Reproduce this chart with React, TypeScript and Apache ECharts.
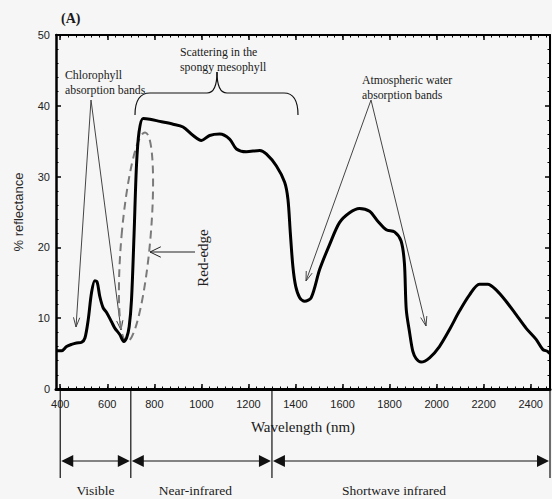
import React, { useEffect, useRef } from 'react';
import * as echarts from 'echarts';

const wavelengths = [
  384, 406, 427, 448, 469, 491, 505, 519, 533, 547, 557, 568, 582, 597, 618, 632, 653, 670, 682, 693,
  703, 714, 724, 735, 752, 781, 823, 880, 922, 965, 1000, 1035, 1078, 1120, 1149, 1191, 1248, 1276,
  1319, 1354, 1368, 1378, 1389, 1401, 1418, 1439, 1467, 1503, 1545, 1587, 1630, 1672, 1715, 1750,
  1786, 1821, 1849, 1863, 1871, 1885, 1899, 1913, 1934, 1970, 2012, 2055, 2097, 2140, 2182, 2217,
  2253, 2295, 2338, 2380, 2423, 2451, 2472, 2480,
];
const reflectance = [
  5.4, 5.4, 6.0, 6.3, 6.5, 6.6, 7.2, 9.8, 13.6, 15.3, 15.1, 13.1, 11.5, 10.8, 9.5, 8.6, 7.7, 6.7, 7.2, 8.8,
  12.6, 22, 31.5, 36.3, 38.2, 38.1, 37.8, 37.4, 37.0, 35.8, 35.1, 35.8, 36.0, 35.3, 33.9, 33.5, 33.7, 33.2,
  31.5, 29.2, 26.8, 22.1, 17.3, 14.5, 12.9, 12.4, 12.9, 16.9, 20.4, 23.5, 24.9, 25.5, 25.1, 23.7,
  22.5, 22.2, 20.9, 17.8, 11.2, 8.0, 5.3, 4.3, 3.8, 4.4, 6.0, 8.4, 11.0, 13.3, 14.8, 14.8,
  14.0, 12.4, 10.5, 8.6, 7.0, 5.6, 5.3, 5.0,
];
const xLabelValues = [400, 600, 800, 1000, 1200, 1400, 1600, 1800, 2000, 2200, 2400];
const yTickValues = [0, 10, 20, 30, 40, 50];
const regionBounds = [400, 700, 1300, 2482];
const regionNames = ['Visible', 'Near-infrared', 'Shortwave infrared'];

const X_MIN = 382;
const X_MAX = 2482;

const minorX: number[] = [];
for (let k = 0; k <= 63; k++) {
  const v = 400 + (k * 200) / 6;
  if (v <= X_MAX) minorX.push(Math.round(v * 100) / 100);
}

const SERIF = '"Liberation Serif", "DejaVu Serif", serif';
const SANS = '"Liberation Sans", Arial, sans-serif';
const INK = '#1a1a1a';
const ARROW = '#444';

function openArrow(x1: number, y1: number, x2: number, y2: number, head = 10, spread = 0.32, color = ARROW) {
  const ang = Math.atan2(y2 - y1, x2 - x1);
  const a1 = ang + Math.PI - spread;
  const a2 = ang + Math.PI + spread;
  return [
    { type: 'line', shape: { x1, y1, x2, y2 }, style: { stroke: color, lineWidth: 1 } },
    {
      type: 'polyline',
      shape: {
        points: [
          [x2 + head * Math.cos(a1), y2 + head * Math.sin(a1)],
          [x2, y2],
          [x2 + head * Math.cos(a2), y2 + head * Math.sin(a2)],
        ],
      },
      style: { stroke: color, fill: 'none', lineWidth: 1 },
    },
  ];
}

function dblArrow(xa: number, xb: number, y: number) {
  const L = 12;
  const H = 6;
  return [
    { type: 'line', shape: { x1: xa + 2, y1: y, x2: xb - 2, y2: y }, style: { stroke: '#111', lineWidth: 1.2 } },
    { type: 'polygon', shape: { points: [[xa, y], [xa + L, y - H], [xa + L, y + H]] }, style: { fill: '#111' } },
    { type: 'polygon', shape: { points: [[xb, y], [xb - L, y - H], [xb - L, y + H]] }, style: { fill: '#111' } },
  ];
}

function txt(text: string, x: number, y: number, size: number, opts: any = {}) {
  return {
    type: 'text',
    x,
    y,
    rotation: opts.rotation || 0,
    style: {
      text,
      fontSize: size,
      fontFamily: opts.family || SERIF,
      fontWeight: opts.weight || 'normal',
      fill: opts.color || INK,
      textAlign: opts.align || 'left',
      textVerticalAlign: 'middle',
    },
  };
}

export default function App() {
  const ref = useRef<HTMLDivElement>(null);

  useEffect(() => {
    if (!ref.current) return;
    const chart = echarts.init(ref.current, null, { renderer: 'svg' });

    const baseX = {
      type: 'value',
      min: X_MIN,
      max: X_MAX,
      splitLine: { show: false },
    };

    const option: any = {
      animation: false,
      backgroundColor: '#f6f6f6',
      grid: { left: 56, right: 2, top: 35, bottom: 110, containLabel: false },
      xAxis: [
        {
          ...baseX,
          position: 'bottom',
          name: 'Wavelength (nm)',
          nameLocation: 'middle',
          nameGap: 30,
          nameTextStyle: { fontFamily: SERIF, fontSize: 15, color: INK },
          axisLine: { show: true, lineStyle: { color: '#000', width: 3 } },
          axisTick: { show: true, inside: true, length: 5, customValues: xLabelValues, lineStyle: { color: '#000', width: 1.5 } },
          axisLabel: {
            show: true,
            customValues: xLabelValues,
            margin: 9,
            fontFamily: SANS,
            fontSize: 11,
            color: '#222',
            formatter: (v: number) => String(v),
          },
        },
        {
          ...baseX,
          position: 'bottom',
          axisLine: { show: false },
          axisTick: { show: true, inside: true, length: 2.5, customValues: minorX, lineStyle: { color: '#000', width: 1 } },
          axisLabel: { show: false },
        },
        {
          ...baseX,
          position: 'top',
          axisLine: { show: true, lineStyle: { color: '#000', width: 2 } },
          axisTick: { show: true, inside: true, length: 5, customValues: xLabelValues, lineStyle: { color: '#000', width: 1.5 } },
          axisLabel: { show: false },
        },
        {
          ...baseX,
          position: 'top',
          axisLine: { show: false },
          axisTick: { show: true, inside: true, length: 2.5, customValues: minorX, lineStyle: { color: '#000', width: 1 } },
          axisLabel: { show: false },
        },
      ],
      yAxis: [
        {
          type: 'value',
          min: 0,
          max: 50,
          interval: 10,
          position: 'left',
          name: '% reflectance',
          nameLocation: 'middle',
          nameGap: 31,
          nameTextStyle: { fontFamily: SANS, fontSize: 13, color: '#2a2a2a' },
          splitLine: { show: false },
          axisLine: { show: true, lineStyle: { color: '#000', width: 2.5 } },
          axisTick: { show: true, inside: true, length: 5, lineStyle: { color: '#000', width: 1.5 } },
          minorTick: { show: true, splitNumber: 5, length: 2.5, lineStyle: { color: '#000', width: 1 } },
          axisLabel: { show: true, margin: 6, fontFamily: SANS, fontSize: 11, color: '#222', customValues: yTickValues },
        },
        {
          type: 'value',
          min: 0,
          max: 50,
          interval: 10,
          position: 'right',
          splitLine: { show: false },
          axisLine: { show: true, lineStyle: { color: '#000', width: 2 } },
          axisTick: { show: true, inside: true, length: 5, lineStyle: { color: '#000', width: 1.5 } },
          minorTick: { show: true, splitNumber: 5, length: 2.5, lineStyle: { color: '#000', width: 1 } },
          axisLabel: { show: false },
        },
      ],
      series: [
        {
          type: 'line',
          xAxisIndex: 0,
          yAxisIndex: 0,
          data: wavelengths.map((w, i) => [w, reflectance[i]]),
          showSymbol: false,
          smooth: 0.3,
          lineStyle: { color: '#000', width: 3 },
          z: 5,
        },
      ],
    };

    chart.setOption(option);

    const px = (v: number) => chart.convertToPixel({ xAxisIndex: 0 }, v) as number;
    const bx = regionBounds.map(px);

    const graphics: any[] = [];
    // Panel label
    graphics.push(txt('(A)', 61, 18, 14, { weight: 'bold' }));

    // Region boundary lines and arrows
    bx.forEach((x) => {
      graphics.push({ type: 'line', shape: { x1: x, y1: 390, x2: x, y2: 478 }, style: { stroke: '#111', lineWidth: 1.2 } });
    });
    for (let i = 0; i < regionNames.length; i++) {
      graphics.push(...dblArrow(bx[i] + 1, bx[i + 1] - 1, 461));
      graphics.push(txt(regionNames[i], (bx[i] + bx[i + 1]) / 2 - (i === 2 ? 17 : i === 1 ? 6 : 0), 490, 13.5, { align: 'center' }));
    }

    // Chlorophyll absorption bands
    graphics.push(txt('Chlorophyll', 65, 75, 11.8));
    graphics.push(txt('absorption bands', 65, 90, 11.8));
    graphics.push(...openArrow(91, 100, 76, 327));
    graphics.push(...openArrow(91, 100, 121, 330));

    // Scattering brace
    graphics.push(txt('Scattering in the', 180, 52, 11.8));
    graphics.push(txt('spongy mesophyll', 180, 67, 11.8));
    const braceStyle = { stroke: '#111', lineWidth: 1.2, fill: 'none' };
    graphics.push({ type: 'bezierCurve', shape: { x1: 135, y1: 115, x2: 150, y2: 93, cpx1: 135, cpy1: 93 }, style: braceStyle });
    graphics.push({ type: 'line', shape: { x1: 150, y1: 93, x2: 207, y2: 93 }, style: braceStyle });
    graphics.push({ type: 'bezierCurve', shape: { x1: 207, y1: 93, x2: 217, y2: 72, cpx1: 217, cpy1: 93 }, style: braceStyle });
    graphics.push({ type: 'bezierCurve', shape: { x1: 217, y1: 72, x2: 227, y2: 93, cpx1: 217, cpy1: 93 }, style: braceStyle });
    graphics.push({ type: 'line', shape: { x1: 227, y1: 93, x2: 284, y2: 93 }, style: braceStyle });
    graphics.push({ type: 'bezierCurve', shape: { x1: 284, y1: 93, x2: 298, y2: 115, cpx1: 298, cpy1: 93 }, style: braceStyle });

    // Atmospheric water absorption bands
    graphics.push(txt('Atmospheric water', 362, 80, 11.8));
    graphics.push(txt('absorption bands', 362, 95, 11.8));
    graphics.push(...openArrow(371, 100, 306, 281));
    graphics.push(...openArrow(371, 100, 426, 326));

    // Red-edge ellipse
    graphics.push({
      type: 'ellipse',
      x: 136,
      y: 237,
      rotation: -0.087,
      shape: { cx: 0, cy: 0, rx: 14.5, ry: 105 },
      style: { fill: 'none', stroke: '#7a7a7a', lineWidth: 2, lineDash: [8, 5] },
      z: 3,
    });
    graphics.push(...openArrow(195, 252, 150, 252, 12, 0.45, '#222'));
    graphics.push(txt('Red-edge', 203, 258, 15, { align: 'center', rotation: Math.PI / 2, color: '#222' }));

    chart.setOption({ graphic: { elements: graphics } });

    return () => {
      chart.dispose();
    };
  }, []);

  return (
    <div
      ref={ref}
      style={{ position: 'fixed', left: 0, top: 0, width: 552, height: 499, background: '#f6f6f6' }}
    />
  );
}
